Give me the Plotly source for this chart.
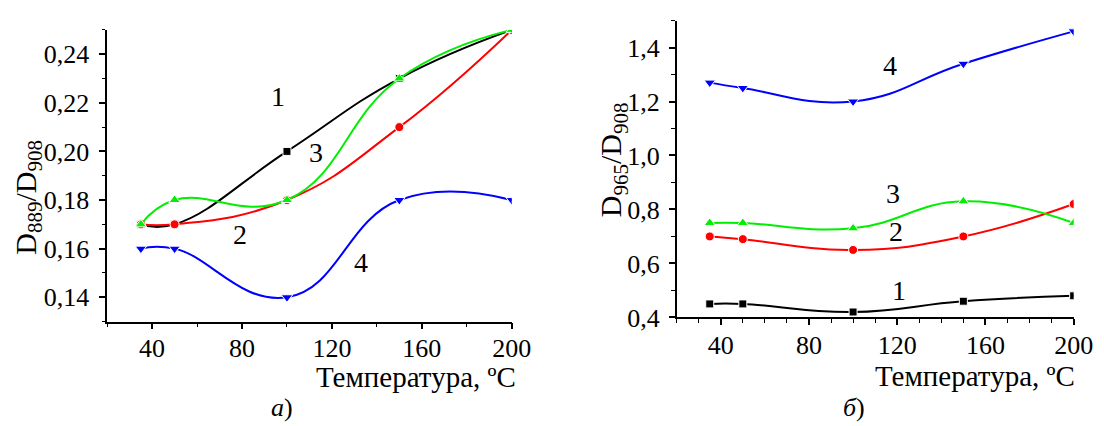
import plotly.graph_objects as go

# ---------------- data ----------------
temps = [35, 50, 100, 150, 200]

# panel a) D889/D908
a_1 = [0.17, 0.17, 0.20, 0.23, 0.25]
a_2 = [0.17, 0.17, 0.18, 0.21, 0.25]
a_3 = [0.17, 0.18, 0.18, 0.23, 0.25]
a_4 = [0.16, 0.16, 0.14, 0.18, 0.18]

# panel б) D965/D908
b_1 = [0.45, 0.45, 0.42, 0.46, 0.48]
b_2 = [0.70, 0.69, 0.65, 0.70, 0.82]
b_3 = [0.75, 0.75, 0.73, 0.83, 0.75]
b_4 = [1.27, 1.25, 1.20, 1.34, 1.46]

series_names = ["1", "2", "3", "4"]
colors = ["#000000", "#ff0000", "#00ee00", "#0000ff"]
symbols = ["square", "circle", "triangle-up", "triangle-down"]
sizes = [8, 9, 10, 10]

W, H = 1104, 426
FONT = "'Liberation Serif', Tinos, 'Times New Roman', 'DejaVu Serif', serif"

fig = go.Figure()

for i, ys in enumerate([a_1, a_2, a_3, a_4]):
    fig.add_trace(go.Scatter(
        x=temps, y=ys, mode="lines+markers", name=series_names[i],
        line=dict(color=colors[i], width=2, shape="spline", smoothing=1.3),
        marker=dict(symbol=symbols[i], size=sizes[i], color=colors[i],
                    line=dict(color="white", width=1)),
        xaxis="x", yaxis="y", showlegend=False))

for i, ys in enumerate([b_1, b_2, b_3, b_4]):
    fig.add_trace(go.Scatter(
        x=temps, y=ys, mode="lines+markers", name=series_names[i],
        line=dict(color=colors[i], width=2, shape="spline", smoothing=1.3),
        marker=dict(symbol=symbols[i], size=sizes[i], color=colors[i],
                    line=dict(color="white", width=1)),
        xaxis="x2", yaxis="y2", showlegend=False))

def px(x):
    return x / W

def py(y):
    return 1 - y / H

tickfont = dict(family=FONT, size=26, color="black")
axis_common = dict(showgrid=False, zeroline=False, showline=True, linecolor="black",
                   linewidth=1.5, ticks="outside", ticklen=6, tickwidth=1.5,
                   tickcolor="black", tickfont=tickfont, mirror=False)

fig.update_layout(
    width=W, height=H,
    margin=dict(l=0, r=0, t=0, b=0),
    paper_bgcolor="white", plot_bgcolor="white",
    separators=", ",
    font=dict(family=FONT, color="black"),
    xaxis=dict(domain=[px(101), px(513)], range=[20, 200], anchor="y",
               tick0=0, dtick=40, ticklabelstandoff=-4,
               minor=dict(dtick=20, tick0=0, ticklen=3.5, tickwidth=1.2,
                          tickcolor="black", ticks="outside", showgrid=False),
               **axis_common),
    yaxis=dict(domain=[py(325), py(22.7)], range=[0.13, 0.25], anchor="x",
               tick0=0, dtick=0.02, tickformat=".2f", ticklabelstandoff=5,
               minor=dict(dtick=0.01, tick0=0, ticklen=3.5, tickwidth=1.2,
                          tickcolor="black", ticks="outside", showgrid=False),
               **axis_common),
    xaxis2=dict(domain=[px(681), px(1085.3)], range=[20, 200], anchor="y2",
                tick0=0, dtick=40, ticklabelstandoff=-2,
                minor=dict(dtick=10, tick0=0, ticklen=3.5, tickwidth=1.2,
                           tickcolor="black", ticks="outside", showgrid=False),
                **axis_common),
    yaxis2=dict(domain=[py(320.7), py(13)], range=[0.4, 1.5], anchor="x2",
                tick0=0, dtick=0.2, tickformat=".1f", ticklabelstandoff=4,
                minor=dict(dtick=0.1, tick0=0, ticklen=3.5, tickwidth=1.2,
                           tickcolor="black", ticks="outside", showgrid=False),
                **axis_common),
)

annots = []
lab_font = dict(family=FONT, size=28, color="black")
# curve number labels (data coords)
for (x, y, t) in [(96, 0.2225, "1"), (79, 0.1657, "2"), (113, 0.1996, "3"), (133, 0.1542, "4")]:
    annots.append(dict(x=x, y=y, xref="x", yref="y", text=t, showarrow=False, font=lab_font))
for (x, y, t) in [(120.6, 0.499, "1"), (119.3, 0.719, "2"), (118.3, 0.86, "3"), (116.6, 1.335, "4")]:
    annots.append(dict(x=x, y=y, xref="x2", yref="y2", text=t, showarrow=False, font=lab_font))

# axis titles
ytitle_font = dict(family=FONT, size=30, color="black")
annots.append(dict(x=px(20), y=py(196), xref="paper", yref="paper",
                   text="D<sub>889</sub>/D<sub>908</sub>", textangle=-90,
                   showarrow=False, font=ytitle_font, xanchor="center", yanchor="middle"))
annots.append(dict(x=px(617), y=py(157), xref="paper", yref="paper",
                   text="D<sub>965</sub>/D<sub>908</sub>", textangle=-90,
                   showarrow=False, font=ytitle_font, xanchor="center", yanchor="middle"))
xtitle_font = dict(family=FONT, size=29, color="black")
annots.append(dict(x=px(519), y=py(382), xref="paper", yref="paper",
                   text="Температура, ºC", showarrow=False, font=xtitle_font,
                   xanchor="right", yanchor="middle"))
annots.append(dict(x=px(1089), y=py(381), xref="paper", yref="paper",
                   text="Температура, ºC", showarrow=False, font=xtitle_font,
                   xanchor="right", yanchor="middle"))
# panel labels
plab_font = dict(family=FONT, size=26, color="black")
annots.append(dict(x=px(279), y=py(414), xref="paper", yref="paper",
                   text="<i>а</i>)", showarrow=False, font=plab_font,
                   xanchor="center", yanchor="middle"))
annots.append(dict(x=px(862), y=py(414), xref="paper", yref="paper",
                   text="<i>б</i>)", showarrow=False, font=plab_font,
                   xanchor="center", yanchor="middle"))

fig.update_layout(annotations=annots)
fig.write_html("out.html")
